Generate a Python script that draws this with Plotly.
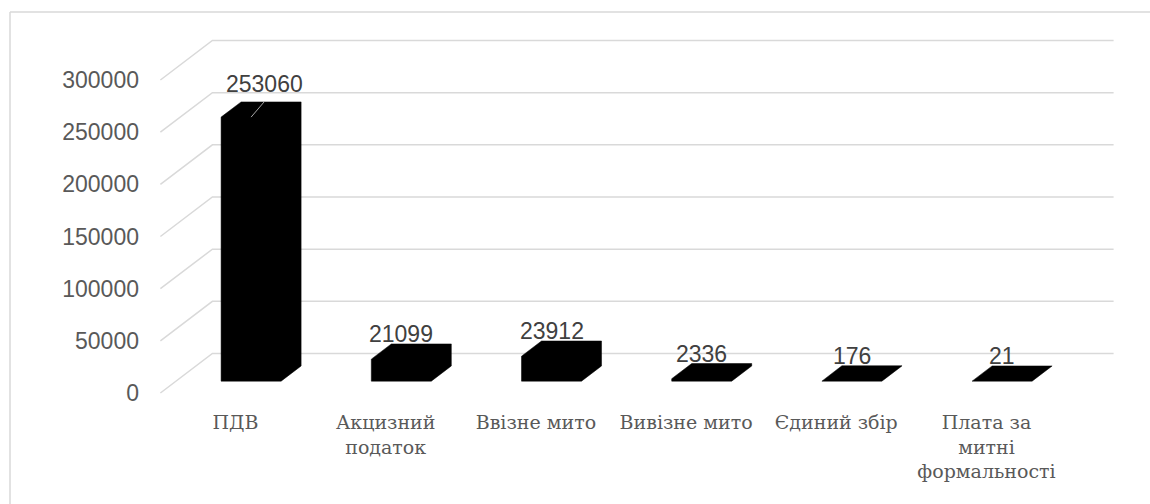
import plotly.graph_objects as go

# ---------------- data ----------------
categories = ["ПДВ", "Акцизний<br>податок", "Ввізне мито", "Вивізне мито",
              "Єдиний збір", "Плата за<br>митні<br>формальності"]
values = [253060, 21099, 23912, 2336, 176, 21]
y_ticks = [0, 50000, 100000, 150000, 200000, 250000, 300000]
y_tick_labels = ["0", "50000", "100000", "150000", "200000", "250000", "300000"]

# ---------------- geometry (page pixels -> data) ----------------
W, H = 1150, 504
PLOT_L, PLOT_R, PLOT_T, PLOT_B = 150, 1140, 20, 405   # page pixels
CAT0_PX = 235.5          # page x of first category (floor front)
CAT_PX = 150.2           # pixel spacing of categories
ZERO_PX = 393            # page y of value 0 on the floor front
PX_PER_VAL = 313 / 300000
DEPTH_X_PX, DEPTH_Y_PX = 52, 39.5   # oblique depth of the floor
DX = DEPTH_X_PX / CAT_PX
DV = DEPTH_Y_PX / PX_PER_VAL
BAR_HALF = 30 / CAT_PX
F0, F1 = 0.30, 0.685     # bar depth span (fraction of floor depth)

x_range = [(PLOT_L - CAT0_PX) / CAT_PX, (PLOT_R - CAT0_PX) / CAT_PX]
y_range = [(ZERO_PX - PLOT_B) / PX_PER_VAL, (ZERO_PX - PLOT_T) / PX_PER_VAL]

n = len(categories)
fig = go.Figure()

# gridlines: side wall (oblique) + back wall (horizontal)
gx, gy = [], []
for v in y_ticks:
    gx += [-0.5, -0.5 + DX, n - 0.5 + DX, None]
    gy += [v, v + DV, v + DV, None]
fig.add_trace(go.Scatter(x=gx, y=gy, mode="lines",
                         line=dict(color="#d9d9d9", width=1.5),
                         hoverinfo="skip", showlegend=False))

# 3D-looking bars (silhouette: front + top + side faces, all black)
for i, v in enumerate(values):
    xs = [i - BAR_HALF + F0 * DX, i + BAR_HALF + F0 * DX, i + BAR_HALF + F1 * DX,
          i + BAR_HALF + F1 * DX, i - BAR_HALF + F1 * DX, i - BAR_HALF + F0 * DX,
          i - BAR_HALF + F0 * DX]
    ys = [F0 * DV, F0 * DV, F1 * DV, v + F1 * DV, v + F1 * DV, v + F0 * DV, F0 * DV]
    fig.add_trace(go.Scatter(x=xs, y=ys, mode="lines", fill="toself",
                             fillcolor="#000000", line=dict(color="#000000", width=0.5),
                             hoverinfo="skip", showlegend=False))

# label offsets (pixels): first label was moved, with a leader line
label_shift = [(13.5, 17.7)] + [(0, 10)] * (n - 1)

# leader line for the first label
i0, v0 = 0, values[0]
fig.add_trace(go.Scatter(
    x=[i0 + F0 * DX, i0 + F0 * DX + 13 / CAT_PX],
    y=[v0 + F0 * DV, v0 + F1 * DV],
    mode="lines", line=dict(color="#a6a6a6", width=1),
    hoverinfo="skip", showlegend=False))

for i, v in enumerate(values):
    sx, sy = label_shift[i]
    fig.add_annotation(x=i + F0 * DX, y=v + F1 * DV, text=str(v),
                       showarrow=False, xanchor="center", yanchor="middle",
                       xshift=sx, yshift=sy,
                       font=dict(family="Liberation Sans, Arial, sans-serif",
                                 size=23, color="#404040"))

# outer chart frame (only its left and top edges fall inside the picture)
def px_to_paper_x(px):
    return (px - PLOT_L) / (PLOT_R - PLOT_L)

def px_to_paper_y(py):
    return (PLOT_B - py) / (PLOT_B - PLOT_T)

frame_line = dict(color="#d9d9d9", width=1.5)
fig.add_shape(type="line", xref="paper", yref="paper",
              x0=px_to_paper_x(10), x1=px_to_paper_x(W),
              y0=px_to_paper_y(12), y1=px_to_paper_y(12),
              line=frame_line, layer="below")
fig.add_shape(type="line", xref="paper", yref="paper",
              x0=px_to_paper_x(10), x1=px_to_paper_x(10),
              y0=px_to_paper_y(12), y1=px_to_paper_y(H),
              line=frame_line, layer="below")

fig.update_layout(
    width=W, height=H,
    margin=dict(l=PLOT_L, r=W - PLOT_R, t=PLOT_T, b=H - PLOT_B),
    paper_bgcolor="white", plot_bgcolor="white",
    showlegend=False,
    xaxis=dict(range=x_range, tickmode="array", tickvals=list(range(n)),
               ticktext=categories, showgrid=False, zeroline=False,
               showline=False, ticks="", ticklabelstandoff=4, fixedrange=True,
               tickfont=dict(family="DejaVu Serif, serif", size=19, color="#595959")),
    yaxis=dict(range=y_range, tickmode="array", tickvals=y_ticks,
               ticktext=y_tick_labels, showgrid=False, zeroline=False,
               showline=False, ticks="", ticklabelstandoff=10, fixedrange=True,
               tickfont=dict(family="Liberation Sans, Arial, sans-serif",
                             size=23, color="#595959")),
)

# remove the default page margin so the figure fills the window exactly
page_css = ("document.body.style.margin='0';"
            "document.body.style.overflow='hidden';")
fig.write_html("out.html", post_script=page_css,
               config={"displayModeBar": False})
